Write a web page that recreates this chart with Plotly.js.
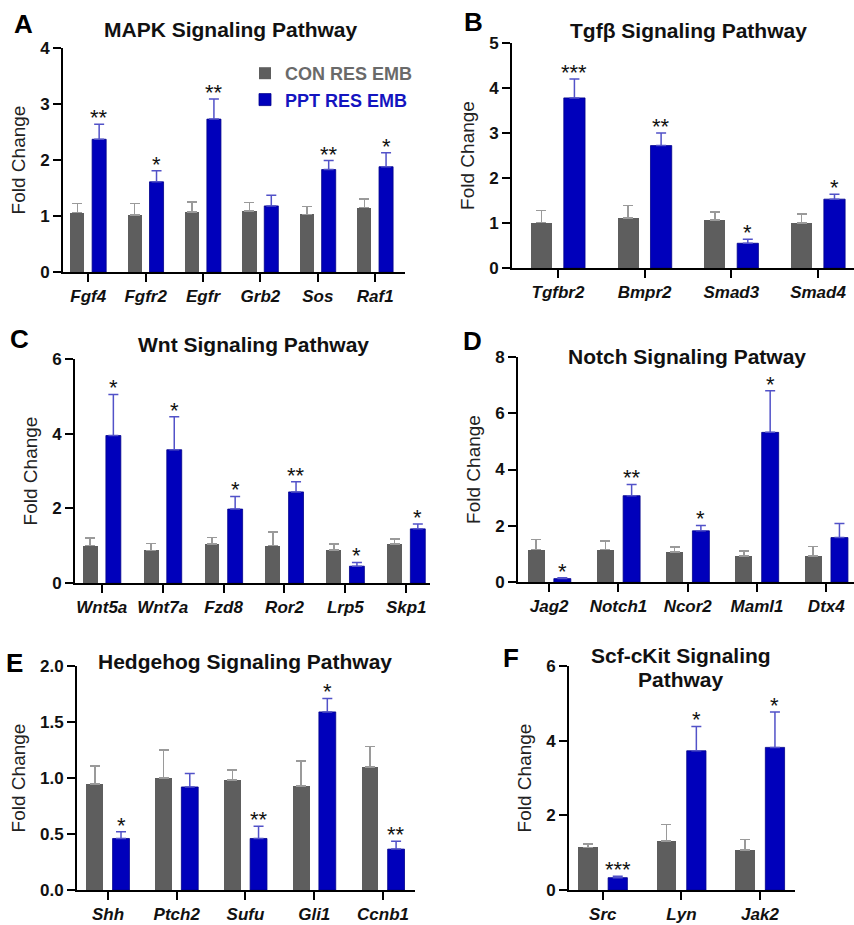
<!DOCTYPE html>
<html><head><meta charset="utf-8">
<script src="https://cdn.plot.ly/plotly-3.0.1.min.js"></script>
<style>html,body{margin:0;padding:0;background:#fff}</style>
</head><body><div id="chart" style="width:854px;height:925px"></div>
<script>
// ---------------- DATA ----------------
const mapkGenes = ['Fgf4','Fgfr2','Egfr','Grb2','Sos','Raf1'];
const mapkCon = [1.06,1.02,1.07,1.09,1.03,1.15];
const mapkConErr = [0.16,0.20,0.18,0.15,0.14,0.15];
const mapkPpt = [2.37,1.61,2.73,1.18,1.83,1.88];
const mapkPptErr = [0.27,0.20,0.36,0.19,0.16,0.25];
const mapkSig = ['**','*','**','','**','*'];

const tgfGenes = ['Tgfbr2','Bmpr2','Smad3','Smad4'];
const tgfCon = [1.01,1.11,1.07,1.00];
const tgfConErr = [0.27,0.28,0.18,0.20];
const tgfPpt = [3.78,2.72,0.55,1.53];
const tgfPptErr = [0.42,0.28,0.09,0.11];
const tgfSig = ['***','**','*','*'];

const wntGenes = ['Wnt5a','Wnt7a','Fzd8','Ror2','Lrp5','Skp1'];
const wntCon = [1.00,0.875,1.04,1.00,0.89,1.04];
const wntConErr = [0.20,0.18,0.18,0.37,0.16,0.14];
const wntPpt = [3.95,3.57,1.98,2.44,0.45,1.45];
const wntPptErr = [1.10,0.88,0.34,0.27,0.10,0.13];
const wntSig = ['*','*','*','**','*','*'];

const notchGenes = ['Jag2','Notch1','Ncor2','Maml1','Dtx4'];
const notchCon = [1.15,1.15,1.07,0.93,0.92];
const notchConErr = [0.37,0.31,0.18,0.18,0.35];
const notchPpt = [0.12,3.07,1.82,5.32,1.58];
const notchPptErr = [0.03,0.40,0.19,1.48,0.50];
const notchSig = ['*','**','*','*',''];

const hhGenes = ['Shh','Ptch2','Sufu','Gli1','Ccnb1'];
const hhCon = [0.945,1.00,0.98,0.93,1.10];
const hhConErr = [0.16,0.25,0.09,0.22,0.18];
const hhPpt = [0.46,0.92,0.46,1.59,0.365];
const hhPptErr = [0.06,0.12,0.11,0.12,0.07];
const hhSig = ['*','','**','*','**'];

const kitGenes = ['Src','Lyn','Jak2'];
const kitCon = [1.14,1.31,1.07];
const kitConErr = [0.09,0.44,0.28];
const kitPpt = [0.33,3.73,3.82];
const kitPptErr = [0.04,0.65,0.95];
const kitSig = ['***','*','*'];

const seriesNames = ['CON RES EMB','PPT RES EMB'];
const yTitle = 'Fold Change';

// ---------------- STYLE / LAYOUT ----------------
const W = 854, H = 925;
const FONT = 'Liberation Sans, Arial, Helvetica, sans-serif';
const GRAY = '#5e5e5e', BLUE = '#0000bb';
const GRAY_ERR = '#9a9a9a', BLUE_ERR = '#5252c8';
const HALF = 0.19, BARW = 0.245;

const panels = [
  {letter:'A', title:['MAPK Signaling Pathway'], genes:mapkGenes, con:mapkCon, conErr:mapkConErr, ppt:mapkPpt, pptErr:mapkPptErr, sig:mapkSig,
   ymax:4, dtick:1, fmt:'d', box:[63,405,48,272], xr:[-0.44,5.52], tpos:[231,29], lpos:[23,24]},
  {letter:'B', title:['Tgfβ Signaling Pathway'], genes:tgfGenes, con:tgfCon, conErr:tgfConErr, ppt:tgfPpt, pptErr:tgfPptErr, sig:tgfSig,
   ymax:5, dtick:1, fmt:'d', box:[512,854,43,268], xr:[-0.53,3.415], tpos:[688,31], lpos:[474,22]},
  {letter:'C', title:['Wnt Signaling Pathway'], genes:wntGenes, con:wntCon, conErr:wntConErr, ppt:wntPpt, pptErr:wntPptErr, sig:wntSig,
   ymax:6, dtick:2, fmt:'d', box:[75,430,359,583], xr:[-0.44,5.39], tpos:[253,345], lpos:[19,339]},
  {letter:'D', title:['Notch Signaling Patway'], genes:notchGenes, con:notchCon, conErr:notchConErr, ppt:notchPpt, pptErr:notchPptErr, sig:notchSig,
   ymax:8, dtick:2, fmt:'d', box:[518,854,357,582], xr:[-0.45,4.4], tpos:[687,356], lpos:[473,341]},
  {letter:'E', title:['Hedgehog Signaling Pathway'], genes:hhGenes, con:hhCon, conErr:hhConErr, ppt:hhPpt, pptErr:hhPptErr, sig:hhSig,
   ymax:2, dtick:0.5, fmt:'.1f', box:[77,415,666,890], xr:[-0.45,4.465], tpos:[245,661], lpos:[14,663]},
  {letter:'F', title:['Scf-cKit Signaling','Pathway'], genes:kitGenes, con:kitCon, conErr:kitConErr, ppt:kitPpt, pptErr:kitPptErr, sig:kitSig,
   ymax:6, dtick:2, fmt:'d', box:[569,795,666,890], xr:[-0.43,2.445], tpos:[681,655], lpos:[511,658]}
];

const data = [];
const annotations = [];
const layout = {
  width: W, height: H,
  margin: {l:0, r:0, t:0, b:0},
  paper_bgcolor: '#fff', plot_bgcolor: 'rgba(0,0,0,0)',
  font: {family: FONT, color: '#111'},
  showlegend: true,
  legend: {
    x: 245/W, y: 1 - 55/H, xanchor: 'left', yanchor: 'top',
    bgcolor: 'rgba(0,0,0,0)', borderwidth: 0,
    font: {family: FONT, size: 18, weight: 'bold'},
    tracegroupgap: 0, itemwidth: 30
  },
  bargap: 0, barmode: 'overlay',
  annotations: annotations
};

panels.forEach((p, k) => {
  const n = k + 1;
  const xa = n === 1 ? 'x' : 'x' + n;
  const ya = n === 1 ? 'y' : 'y' + n;
  const xkey = n === 1 ? 'xaxis' : 'xaxis' + n;
  const ykey = n === 1 ? 'yaxis' : 'yaxis' + n;
  const idx = p.genes.map((g, i) => i);
  const [px0, px1, py0, py1] = p.box;

  data.push({
    type: 'bar', name: '<span style="color:#6a6a6a">' + seriesNames[0] + '</span>',
    x: idx, y: p.con, xaxis: xa, yaxis: ya,
    width: BARW, offset: -HALF - BARW / 2,
    marker: {color: GRAY, line: {width: 0}},
    error_y: {type: 'data', symmetric: false, array: p.conErr, arrayminus: p.conErr.map(() => 0),
              color: GRAY_ERR, thickness: 1.5, width: 5},
    showlegend: n === 1, legendgroup: 'con', hoverinfo: 'skip'
  });
  data.push({
    type: 'bar', name: '<span style="color:#1414c0">' + seriesNames[1] + '</span>',
    x: idx, y: p.ppt, xaxis: xa, yaxis: ya,
    width: BARW, offset: HALF - BARW / 2,
    marker: {color: BLUE, line: {width: 0.8, color: '#00008a'}},
    error_y: {type: 'data', symmetric: false, array: p.pptErr, arrayminus: p.pptErr.map(() => 0),
              color: BLUE_ERR, thickness: 1.5, width: 5},
    showlegend: n === 1, legendgroup: 'ppt', hoverinfo: 'skip'
  });

  layout[xkey] = {
    domain: [px0 / W, px1 / W], anchor: ya,
    range: p.xr, tickmode: 'array', tickvals: idx, ticktext: p.genes,
    showline: true, linecolor: '#000', linewidth: 2,
    ticks: 'outside', ticklen: 8, tickwidth: 2, tickcolor: '#000',
    tickfont: {family: FONT, size: 17, weight: 'bold', style: 'italic', color: '#111'},
    showgrid: false, zeroline: false, fixedrange: true
  };
  layout[ykey] = {
    domain: [1 - py1 / H, 1 - py0 / H], anchor: xa,
    range: [0, p.ymax], dtick: p.dtick, tick0: 0, tickformat: p.fmt,
    showline: true, linecolor: '#000', linewidth: 2,
    ticks: 'outside', ticklen: 8, tickwidth: 2, tickcolor: '#000',
    tickfont: {family: FONT, size: 17, weight: 'bold', color: '#111'},
    title: {text: yTitle, font: {family: FONT, size: 19, color: '#222'}, standoff: 9},
    showgrid: false, zeroline: false, fixedrange: true
  };

  // significance stars above PPT bars
  p.sig.forEach((s, i) => {
    if (!s) return;
    annotations.push({
      xref: xa, yref: ya, x: i + HALF, y: p.ppt[i] + p.pptErr[i],
      text: s, showarrow: false, yanchor: 'bottom', xanchor: 'center', yshift: -8,
      font: {family: FONT, size: 22, color: '#111'}
    });
  });

  // panel title (one annotation per line, 24px line pitch)
  p.title.forEach((line, j) => {
    annotations.push({
      xref: 'paper', yref: 'paper', x: p.tpos[0] / W, y: 1 - (p.tpos[1] + j * 24) / H,
      text: '<b>' + line + '</b>', showarrow: false,
      xanchor: 'center', yanchor: 'middle',
      font: {family: FONT, size: 21, color: '#111'}
    });
  });
  // panel letter
  annotations.push({
    xref: 'paper', yref: 'paper', x: p.lpos[0] / W, y: 1 - p.lpos[1] / H,
    text: '<b>' + p.letter + '</b>', showarrow: false, xanchor: 'center', yanchor: 'middle',
    font: {family: FONT, size: 26, color: '#000'}
  });
});

Plotly.newPlot('chart', data, layout, {staticPlot: true, displayModeBar: false});
</script></body></html>
